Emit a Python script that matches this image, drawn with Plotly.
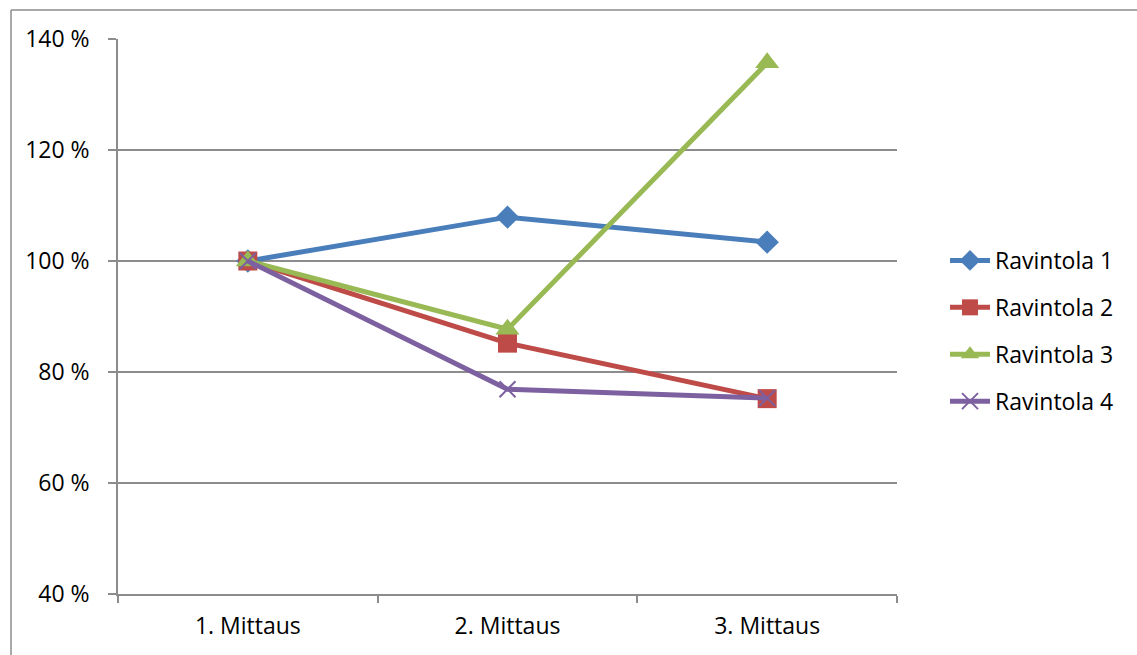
import plotly.graph_objects as go

# Measurement rounds and relative values (% of first measurement)
categories = ["1. Mittaus", "2. Mittaus", "3. Mittaus"]
series_names = ["Ravintola 1", "Ravintola 2", "Ravintola 3", "Ravintola 4"]
ravintola_1 = [100, 107.9, 103.4]
ravintola_2 = [100, 85.2, 75.2]
ravintola_3 = [100, 87.7, 135.7]
ravintola_4 = [100, 76.9, 75.3]
y_ticks = [40, 60, 80, 100, 120, 140]
y_tick_labels = ["40 %", "60 %", "80 %", "100 %", "120 %", "140 %"]

colors = ["#4A7EBB", "#BE4B48", "#98B954", "#7D60A0"]
symbols = ["diamond", "square", "triangle-up", "x-thin"]
sizes = [18, 19, 21, 16]
values = [ravintola_1, ravintola_2, ravintola_3, ravintola_4]

fig = go.Figure()
for i, (name, vals) in enumerate(zip(series_names, values)):
    marker = dict(symbol=symbols[i], size=sizes[i], color=colors[i])
    if symbols[i] == "x-thin":
        marker["line"] = dict(color=colors[i], width=2)
    fig.add_trace(go.Scatter(
        x=categories, y=vals, name=name, mode="lines+markers",
        line=dict(color=colors[i], width=5),
        marker=marker, legendgroup=name,
    ))

W, H = 1137, 655
L, R, T, B = 118, 240, 39, 61
pw, ph = W - L - R, H - T - B

def px_x(p):
    return (p - L) / pw

def px_y(p):
    return (H - B - p) / ph

# Outer chart border (top and left edges visible)
fig.add_shape(type="line", xref="paper", yref="paper",
              x0=px_x(11), x1=px_x(11), y0=px_y(700), y1=px_y(10),
              line=dict(color="#8C8C8C", width=1.5))
fig.add_shape(type="line", xref="paper", yref="paper",
              x0=px_x(11), x1=px_x(1200), y0=px_y(10), y1=px_y(10),
              line=dict(color="#8C8C8C", width=1.5))

font = dict(family="Open Sans, sans-serif", size=23, color="#000000")

fig.update_layout(
    width=W, height=H,
    margin=dict(l=L, r=R, t=T, b=B),
    paper_bgcolor="white", plot_bgcolor="white",
    font=font,
    showlegend=True,
    legend=dict(x=px_x(945), y=px_y(239), xanchor="left", yanchor="top",
                font=font, tracegroupgap=14, traceorder="grouped",
                itemwidth=40, bgcolor="rgba(0,0,0,0)"),
    xaxis=dict(type="category", range=[-0.5, 2.5], tickson="boundaries",
               ticks="outside", ticklen=7, tickcolor="#8C8C8C", tickwidth=1.5,
               showline=True, linecolor="#8C8C8C", linewidth=1.5,
               showgrid=False, zeroline=False, ticklabelstandoff=11,
               tickfont=font),
    yaxis=dict(range=[40, 140], tickvals=y_ticks, ticktext=y_tick_labels,
               ticks="outside", ticklen=8, tickcolor="#8C8C8C", tickwidth=1.5,
               showline=True, linecolor="#8C8C8C", linewidth=1.5,
               showgrid=True, gridcolor="#8C8C8C", gridwidth=1.5,
               zeroline=False, ticklabelstandoff=14, tickfont=font),
)

fig.write_html("out.html")
